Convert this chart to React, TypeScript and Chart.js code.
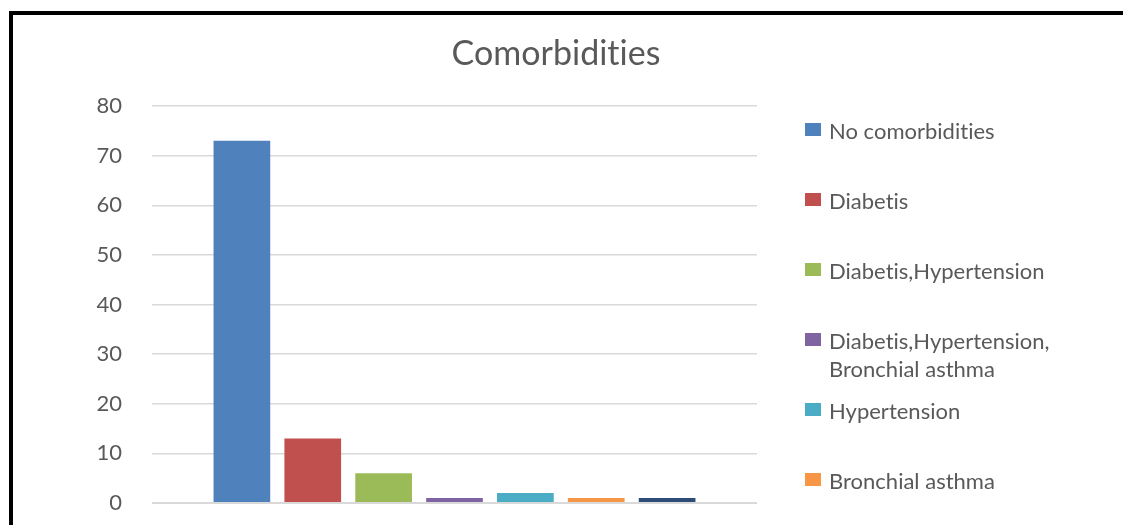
import React, { useEffect, useRef } from "react";
import { Chart, registerables } from "chart.js";

Chart.register(...registerables);

const categories = [""];
const seriesLabels = [
  "No comorbidities",
  "Diabetis",
  "Diabetis,Hypertension",
  "Diabetis,Hypertension,\nBronchial asthma",
  "Hypertension",
  "Bronchial asthma",
  "Others",
];
const seriesValues = [73, 13, 6, 1, 2, 1, 1];
const seriesColors = ["#4F81BD", "#C0504D", "#9BBB59", "#8064A2", "#4BACC6", "#F79646", "#2C4D75"];
const yMin = 0;
const yMax = 80;
const yStep = 10;
const titleText = "Comorbidities";

const TEXT = "#595959";
const FONT = "Lato";

const noLigatures = {
  id: "noLigatures",
  beforeDraw(chart: any) {
    try {
      chart.ctx.letterSpacing = "0.01px";
    } catch (e) {}
  },
};

const sideLegend = {
  id: "sideLegend",
  afterDraw(chart: any) {
    const { ctx, chartArea } = chart;
    const x0 = chartArea.right + 48;
    let y = chartArea.top + 23.5;
    ctx.save();
    ctx.font = `22px ${FONT}`;
    ctx.textBaseline = "middle";
    ctx.textAlign = "left";
    chart.data.datasets.forEach((ds: any) => {
      ctx.fillStyle = ds.backgroundColor;
      ctx.fillRect(x0, y - 6.5, 16, 13);
      const lines = String(ds.label).split("\n");
      ctx.fillStyle = TEXT;
      lines.forEach((ln: string, i: number) => ctx.fillText(ln, x0 + 24, y + 2.5 + i * 28));
      y += 70;
    });
    ctx.restore();
  },
};

export default function App() {
  const ref = useRef<HTMLCanvasElement | null>(null);

  useEffect(() => {
    if (!ref.current) return;
    const chart = new Chart(ref.current, {
      type: "bar",
      data: {
        labels: categories,
        datasets: seriesLabels.map((label, i) => ({
          label,
          data: [seriesValues[i]],
          backgroundColor: seriesColors[i],
          borderWidth: 0,
          categoryPercentage: 0.82,
          barPercentage: 0.8,
        })),
      },
      options: {
        animation: false,
        responsive: false,
        devicePixelRatio: 1,
        layout: { padding: { left: 0, right: 0, top: 0, bottom: 72 } },
        plugins: {
          legend: { display: false },
          tooltip: { enabled: false },
          title: {
            display: true,
            text: titleText,
            color: TEXT,
            font: { family: FONT, size: 34, weight: "normal", lineHeight: 1.2 },
            padding: { top: 18.6, bottom: 31.6 },
          },
        },
        scales: {
          x: { display: false },
          y: {
            min: yMin,
            max: yMax,
            ticks: {
              stepSize: yStep,
              color: TEXT,
              padding: 30,
              font: { family: FONT, size: 22 },
            },
            border: { display: false },
            grid: {
              drawTicks: false,
              color: "#d9d9d9",
              lineWidth: (c: any) => (c.tick && c.tick.value === 0 ? 2 : 1.5),
            },
            afterFit: (scale: any) => {
              scale.width = 139;
            },
          },
          legendSpace: {
            type: "linear",
            position: "right",
            display: true,
            grid: { display: false },
            border: { display: false },
            ticks: { display: false },
            afterFit: (scale: any) => {
              scale.width = 342;
            },
          },
        },
      },
      plugins: [noLigatures, sideLegend],
    } as any);
    return () => chart.destroy();
  }, []);

  return (
    <div style={{ position: "fixed", left: 0, top: 0, width: 1123, height: 525, overflow: "hidden", background: "#fff" }}>
      <div
        style={{
          position: "absolute",
          left: 9,
          top: 11,
          width: 1300,
          height: 800,
          border: "4px solid #000",
          boxSizing: "border-box",
        }}
      >
        <canvas ref={ref} width={1086} height={560} style={{ position: "absolute", left: 0, top: 0, width: 1086, height: 560 }} />
      </div>
    </div>
  );
}
